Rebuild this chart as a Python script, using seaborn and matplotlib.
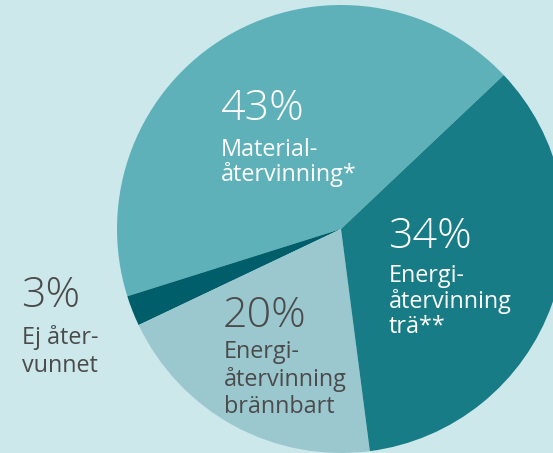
import matplotlib
matplotlib.use("Agg")
import matplotlib.pyplot as plt
import seaborn as sns

# ---- data ----
categories = ["Materialåtervinning*", "Ej återvunnet",
              "Energiåtervinning brännbart", "Energiåtervinning trä**"]
pct_labels = [43, 3, 20, 34]                 # printed percentages
slice_shares = [42.8, 2.2, 20.0, 35.0]       # slice sizes as drawn
label_lines = [["Material-", "återvinning*"],
               ["Ej åter-", "vunnet"],
               ["Energi-", "återvinning", "brännbart"],
               ["Energi-", "återvinning", "trä**"]]

slice_colors = ["#5eb1b9", "#005e6a", "#9bc8cf", "#177c85"]
text_colors = ["white", "#4b4b4b", "#4b4b4b", "white"]
bg = "#cce8eb"

sns.set_theme(style="white")
plt.rcParams["font.family"] = ["Open Sans", "DejaVu Sans"]

W, H = 553, 453
fig = plt.figure(figsize=(W / 100, H / 100), dpi=100, facecolor=bg)
ax = fig.add_axes([0, 0, 1, 1])
ax.set_facecolor(bg)

palette = sns.color_palette(slice_colors)
ax.pie(slice_shares, colors=palette, center=(341, H - 229), radius=224,
       startangle=43.4, counterclock=True,
       wedgeprops=dict(linewidth=0, antialiased=True))
ax.set_xlim(0, W)
ax.set_ylim(0, H)
ax.set_aspect("equal")
ax.axis("off")

# label anchors: (left x, baseline y of the percentage) in pixels from top
anchors = [(220, 120), (21, 307), (223, 327), (388, 248)]
first_gap = [36, 37, 31, 34]
line_gap = [25, 27.5, 27.5, 25.5]

for i, (x, y) in enumerate(anchors):
    ax.text(x, H - y, f"{pct_labels[i]}%", fontsize=31, color=text_colors[i],
            ha="left", va="baseline", fontweight="light")
    yy = y + first_gap[i]
    for line in label_lines[i]:
        ax.text(x + 1, H - yy, line, fontsize=16.8, color=text_colors[i],
                ha="left", va="baseline")
        yy += line_gap[i]

fig.savefig("out.png", dpi=100, facecolor=bg)
